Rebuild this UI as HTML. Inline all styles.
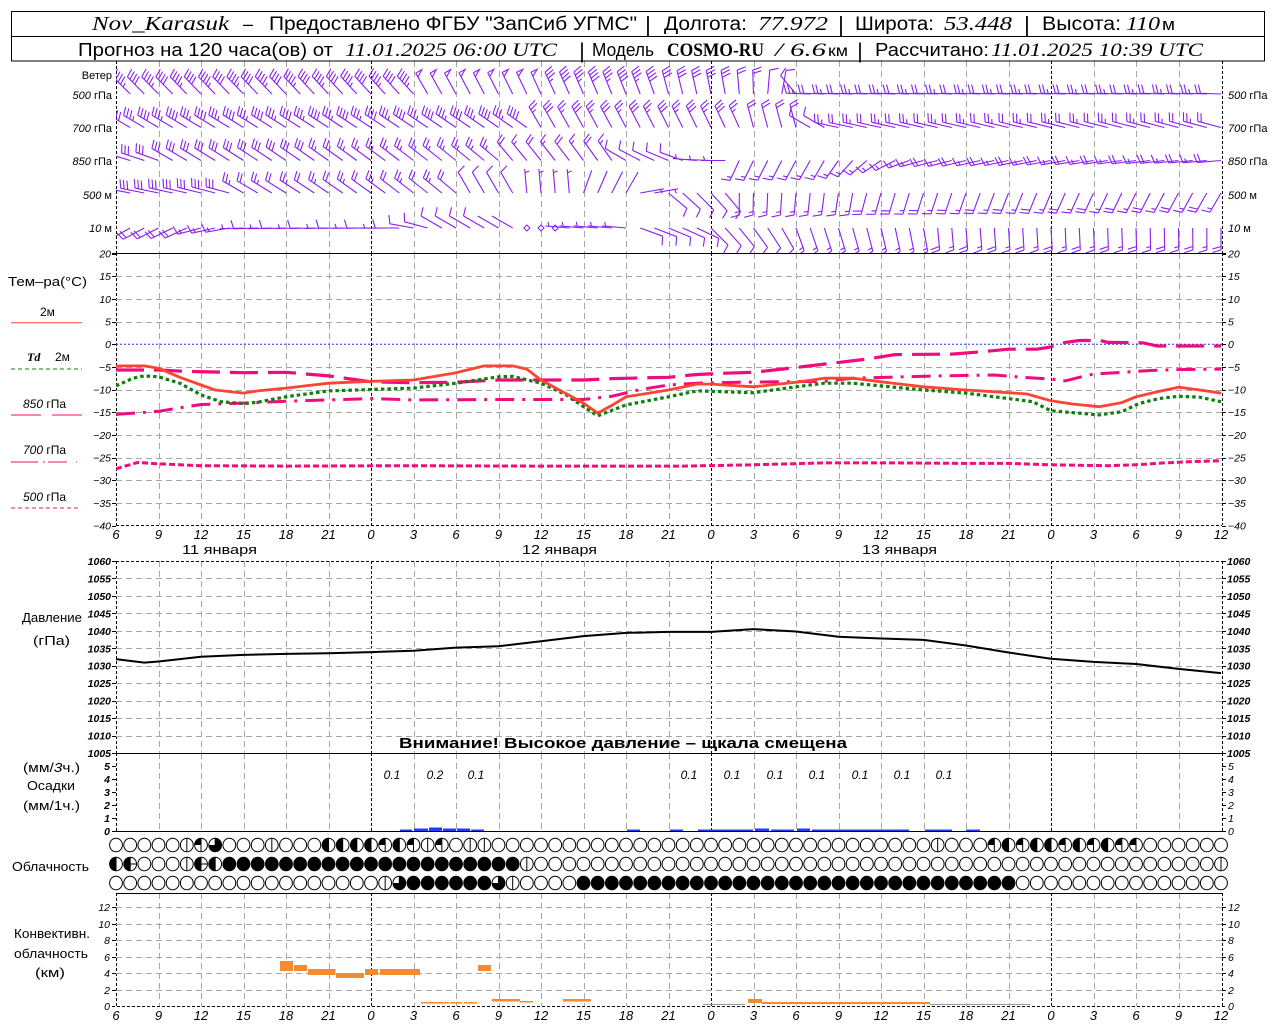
<!DOCTYPE html>
<html lang="ru"><head><meta charset="utf-8"><title>Nov_Karasuk meteogram</title>
<style>
html,body{margin:0;padding:0;background:#fff;width:1280px;height:1024px;overflow:hidden}
svg{display:block}
text{font-family:"Liberation Sans","DejaVu Sans",sans-serif;fill:#000}
.sr{font-family:"Liberation Serif","DejaVu Serif",serif}
.i{font-style:italic}
.tk{font-size:10.5px;font-style:italic}
.xl{font-size:13px;font-style:italic}
.lb{font-size:12.5px}
.wl{font-size:11px}
</style></head><body>
<svg id="c" xmlns="http://www.w3.org/2000/svg" width="1280" height="1024" viewBox="0 0 1280 1024">
<defs>
<clipPath id="wc"><rect x="116" y="61.5" width="1106" height="191.5"/></clipPath>
<clipPath id="tc"><rect x="116" y="253" width="1106" height="272"/></clipPath>
</defs>
<rect width="1280" height="1024" fill="#fff"/>
<g id="grid" shape-rendering="crispEdges"></g>
<g id="wind" clip-path="url(#wc)"></g>
<g id="temp" clip-path="url(#tc)"></g>
<g id="misc"></g>

<!-- HEADER -->
<rect x="11.5" y="11.5" width="1253" height="49.5" fill="none" stroke="#000" stroke-width="1"/>
<line x1="11" y1="36.5" x2="1265" y2="36.5" stroke="#000"/>
<text x="92" y="30" class="sr i" font-size="20" textLength="137" lengthAdjust="spacingAndGlyphs">Nov_Karasuk</text>
<text x="243" y="30" font-size="18" textLength="10" lengthAdjust="spacingAndGlyphs">–</text>
<text x="269" y="30" font-size="19" textLength="368" lengthAdjust="spacingAndGlyphs">Предоставлено ФГБУ "ЗапСиб УГМС"</text>
<text x="648" y="32" font-size="22" text-anchor="middle">|</text>
<text x="664" y="30" font-size="19" textLength="83" lengthAdjust="spacingAndGlyphs">Долгота:</text>
<text x="758" y="30" class="sr i" font-size="20" textLength="70" lengthAdjust="spacingAndGlyphs">77.972</text>
<text x="841" y="32" font-size="22" text-anchor="middle">|</text>
<text x="855" y="30" font-size="19" textLength="79" lengthAdjust="spacingAndGlyphs">Широта:</text>
<text x="944" y="30" class="sr i" font-size="20" textLength="68" lengthAdjust="spacingAndGlyphs">53.448</text>
<text x="1027" y="32" font-size="22" text-anchor="middle">|</text>
<text x="1042" y="30" font-size="19" textLength="79" lengthAdjust="spacingAndGlyphs">Высота:</text>
<text x="1126" y="30" class="sr i" font-size="20" textLength="34" lengthAdjust="spacingAndGlyphs">110</text>
<text x="1162" y="30" font-size="17" textLength="13" lengthAdjust="spacingAndGlyphs">м</text>

<text x="78" y="56" font-size="18" textLength="255" lengthAdjust="spacingAndGlyphs">Прогноз на 120 часа(ов) от</text>
<text x="345" y="56" class="sr i" font-size="19" textLength="212" lengthAdjust="spacingAndGlyphs">11.01.2025 06:00 UTC</text>
<text x="582" y="58" font-size="21" text-anchor="middle">|</text>
<text x="592" y="56" font-size="18" textLength="62" lengthAdjust="spacingAndGlyphs">Модель</text>
<text x="667" y="56" class="sr" font-weight="bold" font-size="19" textLength="97" lengthAdjust="spacingAndGlyphs">COSMO-RU</text>
<text x="775" y="56" class="sr i" font-size="19" textLength="51" lengthAdjust="spacingAndGlyphs">/ 6.6</text>
<text x="828" y="56" font-size="16" textLength="20" lengthAdjust="spacingAndGlyphs">км</text>
<text x="860" y="58" font-size="21" text-anchor="middle">|</text>
<text x="875" y="56" font-size="18" textLength="114" lengthAdjust="spacingAndGlyphs">Рассчитано:</text>
<text x="991" y="56" class="sr i" font-size="19" textLength="212" lengthAdjust="spacingAndGlyphs">11.01.2025 10:39 UTC</text>

<!-- WIND LABELS -->
<text x="112" y="79" class="wl" text-anchor="end">Ветер</text>
<text x="112" y="99" class="wl" text-anchor="end"><tspan class="i">500</tspan> гПа</text>
<text x="112" y="132" class="wl" text-anchor="end"><tspan class="i">700</tspan> гПа</text>
<text x="112" y="165" class="wl" text-anchor="end"><tspan class="i">850</tspan> гПа</text>
<text x="112" y="199" class="wl" text-anchor="end"><tspan class="i">500</tspan>  м</text>
<text x="112" y="232" class="wl" text-anchor="end"><tspan class="i">10</tspan>    м</text>
<text x="1228" y="99" class="wl"><tspan class="i">500</tspan> гПа</text>
<text x="1228" y="132" class="wl"><tspan class="i">700</tspan> гПа</text>
<text x="1228" y="165" class="wl"><tspan class="i">850</tspan> гПа</text>
<text x="1228" y="199" class="wl"><tspan class="i">500</tspan>  м</text>
<text x="1228" y="232" class="wl"><tspan class="i">10</tspan>    м</text>

<!-- TEMP LEGEND -->
<text x="8" y="286" font-size="13" textLength="79" lengthAdjust="spacingAndGlyphs">Тем–ра(°C)</text>
<text x="40" y="316" font-size="12">2м</text>
<text x="27" y="361" class="sr i" font-weight="bold" font-size="12">Td</text>
<text x="55" y="361" font-size="12">2м</text>
<text x="23" y="408" font-size="12"><tspan class="i">850</tspan> гПа</text>
<text x="23" y="454" font-size="12"><tspan class="i">700</tspan> гПа</text>
<text x="23" y="501" font-size="12"><tspan class="i">500</tspan> гПа</text>

<!-- TEMP TICKS -->
<g class="tk" text-anchor="end">
<text x="111" y="257.5">20</text><text x="111" y="280.2">15</text><text x="111" y="302.8">10</text><text x="111" y="325.5">5</text><text x="111" y="348.2">0</text><text x="111" y="370.8">−5</text><text x="111" y="393.5">−10</text><text x="111" y="416.2">−15</text><text x="111" y="438.8">−20</text><text x="111" y="461.5">−25</text><text x="111" y="484.2">−30</text><text x="111" y="506.8">−35</text><text x="111" y="529.5">−40</text>
</g>
<g class="tk">
<text x="1228" y="257.5">20</text><text x="1228" y="280.2">15</text><text x="1228" y="302.8">10</text><text x="1228" y="325.5">5</text><text x="1228" y="348.2">0</text><text x="1228" y="370.8">−5</text><text x="1228" y="393.5">−10</text><text x="1228" y="416.2">−15</text><text x="1228" y="438.8">−20</text><text x="1228" y="461.5">−25</text><text x="1228" y="484.2">−30</text><text x="1228" y="506.8">−35</text><text x="1228" y="529.5">−40</text>
</g>

<!-- TEMP X LABELS -->
<g class="xl" text-anchor="middle">
<text x="116" y="539">6</text><text x="158.5" y="539">9</text><text x="201" y="539">12</text><text x="243.5" y="539">15</text><text x="286" y="539">18</text><text x="328.5" y="539">21</text><text x="371" y="539">0</text><text x="413.5" y="539">3</text><text x="456" y="539">6</text><text x="498.5" y="539">9</text><text x="541" y="539">12</text><text x="583.5" y="539">15</text><text x="626" y="539">18</text><text x="668.5" y="539">21</text><text x="711" y="539">0</text><text x="753.5" y="539">3</text><text x="796" y="539">6</text><text x="838.5" y="539">9</text><text x="881" y="539">12</text><text x="923.5" y="539">15</text><text x="966" y="539">18</text><text x="1008.5" y="539">21</text><text x="1051" y="539">0</text><text x="1093.5" y="539">3</text><text x="1136" y="539">6</text><text x="1178.5" y="539">9</text><text x="1221" y="539">12</text>
</g>
<text x="182" y="554" font-size="13" textLength="75" lengthAdjust="spacingAndGlyphs">11 января</text>
<text x="522" y="554" font-size="13" textLength="75" lengthAdjust="spacingAndGlyphs">12 января</text>
<text x="862" y="554" font-size="13" textLength="75" lengthAdjust="spacingAndGlyphs">13 января</text>

<!-- PRESSURE -->
<text x="22" y="622" font-size="13" textLength="60" lengthAdjust="spacingAndGlyphs">Давление</text>
<text x="33" y="645" font-size="13" textLength="37" lengthAdjust="spacingAndGlyphs">(гПа)</text>
<g class="tk" font-size="10" font-weight="bold" text-anchor="end">
<text x="111" y="565">1060</text><text x="111" y="582.5">1055</text><text x="111" y="599.9">1050</text><text x="111" y="617.4">1045</text><text x="111" y="634.8">1040</text><text x="111" y="652.3">1035</text><text x="111" y="669.7">1030</text><text x="111" y="687.2">1025</text><text x="111" y="704.6">1020</text><text x="111" y="722.1">1015</text><text x="111" y="739.5">1010</text><text x="111" y="757">1005</text>
</g>
<g class="tk" font-size="10" font-weight="bold">
<text x="1227" y="565">1060</text><text x="1227" y="582.5">1055</text><text x="1227" y="599.9">1050</text><text x="1227" y="617.4">1045</text><text x="1227" y="634.8">1040</text><text x="1227" y="652.3">1035</text><text x="1227" y="669.7">1030</text><text x="1227" y="687.2">1025</text><text x="1227" y="704.6">1020</text><text x="1227" y="722.1">1015</text><text x="1227" y="739.5">1010</text><text x="1227" y="757">1005</text>
</g>
<text x="399" y="748" font-size="15" font-weight="bold" textLength="448" lengthAdjust="spacingAndGlyphs">Внимание! Высокое давление – щкала смещена</text>

<!-- PRECIP -->
<text x="23" y="772" font-size="13" textLength="57" lengthAdjust="spacingAndGlyphs">(мм/<tspan class="i">3</tspan>ч.)</text>
<text x="27" y="790" font-size="13" textLength="48" lengthAdjust="spacingAndGlyphs">Осадки</text>
<text x="23" y="810" font-size="13" textLength="57" lengthAdjust="spacingAndGlyphs">(мм/1ч.)</text>
<g class="tk" font-size="10" font-weight="bold" text-anchor="end">
<text x="110" y="770">5</text><text x="110" y="783">4</text><text x="110" y="796">3</text><text x="110" y="809">2</text><text x="110" y="822">1</text><text x="110" y="835">0</text>
</g>
<g class="tk" font-size="10">
<text x="1228" y="770">5</text><text x="1228" y="783">4</text><text x="1228" y="796">3</text><text x="1228" y="809">2</text><text x="1228" y="822">1</text><text x="1228" y="835">0</text>
</g>
<g class="i" font-size="12" text-anchor="middle">
<text x="392" y="779">0.1</text><text x="435" y="779">0.2</text><text x="476" y="779">0.1</text>
<text x="689" y="779">0.1</text><text x="732" y="779">0.1</text><text x="775" y="779">0.1</text><text x="817" y="779">0.1</text><text x="860" y="779">0.1</text><text x="902" y="779">0.1</text><text x="944" y="779">0.1</text>
</g>

<!-- CLOUDS -->
<text x="12" y="871" font-size="13" textLength="77" lengthAdjust="spacingAndGlyphs">Облачность</text>

<!-- CONVECTIVE -->
<text x="14" y="938" font-size="13" textLength="76" lengthAdjust="spacingAndGlyphs">Конвективн.</text>
<text x="14" y="958" font-size="13" textLength="74" lengthAdjust="spacingAndGlyphs">облачность</text>
<text x="35" y="977" font-size="13" textLength="30" lengthAdjust="spacingAndGlyphs">(км)</text>
<g class="tk" font-size="10" text-anchor="end">
<text x="110" y="911">12</text><text x="110" y="928">10</text><text x="110" y="944">8</text><text x="110" y="961">6</text><text x="110" y="977">4</text><text x="110" y="994">2</text><text x="110" y="1010">0</text>
</g>
<g class="tk" font-size="10">
<text x="1228" y="911">12</text><text x="1228" y="928">10</text><text x="1228" y="944">8</text><text x="1228" y="961">6</text><text x="1228" y="977">4</text><text x="1228" y="994">2</text><text x="1228" y="1010">0</text>
</g>
<g class="xl" text-anchor="middle">
<text x="116" y="1020">6</text><text x="158.5" y="1020">9</text><text x="201" y="1020">12</text><text x="243.5" y="1020">15</text><text x="286" y="1020">18</text><text x="328.5" y="1020">21</text><text x="371" y="1020">0</text><text x="413.5" y="1020">3</text><text x="456" y="1020">6</text><text x="498.5" y="1020">9</text><text x="541" y="1020">12</text><text x="583.5" y="1020">15</text><text x="626" y="1020">18</text><text x="668.5" y="1020">21</text><text x="711" y="1020">0</text><text x="753.5" y="1020">3</text><text x="796" y="1020">6</text><text x="838.5" y="1020">9</text><text x="881" y="1020">12</text><text x="923.5" y="1020">15</text><text x="966" y="1020">18</text><text x="1008.5" y="1020">21</text><text x="1051" y="1020">0</text><text x="1093.5" y="1020">3</text><text x="1136" y="1020">6</text><text x="1178.5" y="1020">9</text><text x="1221" y="1020">12</text>
</g>
</svg>
<script>
(function(){
var NS='http://www.w3.org/2000/svg';
function $(id){return document.getElementById(id);}
function mk(tag,a,p){var e=document.createElementNS(NS,tag);for(var k in a)e.setAttribute(k,a[k]);p.appendChild(e);return e;}
function X(h){return 116+h*1105/78;}
var grid=$('grid'),misc=$('misc'),wind=$('wind'),temp=$('temp');
var GR='#a6a6a6';
var panels=[[61,253],[253,525],[561,753],[753,831],[893,1006]];
for(var k=1;k<26;k++){
  var h=3*k,x=Math.round(X(h))+0.5,mid=((h+6)%24===0);
  panels.forEach(function(p){
    mk('line',{x1:x,y1:p[0],x2:x,y2:p[1],stroke:mid?'#000':GR,'stroke-dasharray':mid?'3,2':'6,4','stroke-width':1},grid);
  });
}
panels.forEach(function(p){
  mk('line',{x1:116.5,y1:p[0],x2:116.5,y2:p[1],stroke:'#000','stroke-dasharray':'3,2'},grid);
  mk('line',{x1:1222.5,y1:p[0],x2:1222.5,y2:p[1],stroke:'#000','stroke-dasharray':'3,2'},grid);
});
function hl(y,col,dash,x1,x2){var a={x1:x1||116,y1:y,x2:x2||1222,y2:y,stroke:col,'stroke-width':1};if(dash)a['stroke-dasharray']=dash;mk('line',a,grid);}
for(var k=1;k<12;k++){if(k===4)continue;hl(Math.round(253.5+k*22.667)+0.5,GR,'6,4');}
hl(253.5,'#000',null,112,1226);
hl(525.5,'#000','3,2');
for(var k=0;k<=12;k++){var y=Math.round(253.5+k*22.667)+0.5;hl(y,'#000',null,112,116);hl(y,'#000',null,1222,1226);}
hl(561.5,'#000','3,2');
for(var k=1;k<11;k++){hl(Math.round(561+k*17.4545)+0.5,GR,'6,4');}
hl(753.5,'#000',null,112,1226);
for(var k=0;k<=11;k++){var y=Math.round(561+k*17.4545)+0.5;hl(y,'#000',null,112,116);hl(y,'#000',null,1222,1226);}
hl(831.5,'#000',null,112,1226);
for(var k=0;k<=5;k++){var y=766.5+k*13;hl(y,'#000',null,112,116);hl(y,'#000',null,1222,1226);}
hl(893.5,'#000',null,116,1222);
for(var km=2;km<=12;km+=2){var y=Math.round(1006-km*8.22)+0.5;hl(y,GR,'6,4');hl(y,'#000',null,112,116);hl(y,'#000',null,1222,1226);}
hl(1006.5,'#000','3,2',112,1226);

mk('line',{x1:116,y1:344.2,x2:1222,y2:344.2,stroke:'#2233ff','stroke-width':1,'stroke-dasharray':'2,2'},temp);

var MG='#f00c7c';
mk('line',{x1:11,y1:322.7,x2:82,y2:322.7,stroke:'#ff4433','stroke-width':1},misc);
mk('line',{x1:11,y1:369,x2:82,y2:369,stroke:'#0f7f0f','stroke-width':1,'stroke-dasharray':'4,3'},misc);
mk('line',{x1:11,y1:415,x2:41,y2:415,stroke:MG,'stroke-width':1},misc);
mk('line',{x1:52,y1:415,x2:82,y2:415,stroke:MG,'stroke-width':1},misc);
mk('path',{d:'M11,462H38M43,462H45M48,462H67M76,462H77',stroke:MG,'stroke-width':1,fill:'none'},misc);
mk('line',{x1:11,y1:508,x2:78,y2:508,stroke:MG,'stroke-width':1,'stroke-dasharray':'4,3'},misc);

function Ty(t){return 344.17-t*4.5333;}
function path(pts,fy){return pts.map(function(q,i){return (i?'L':'M')+X(q[0]).toFixed(1)+','+fy(q[1]).toFixed(1);}).join('');}
var T500=[[0,-27.5],[1.5,-26.1],[3,-26.4],[6,-26.8],[12,-26.9],[20,-26.8],[30,-26.9],[40,-26.9],[45,-26.6],[50,-26.2],[55,-26.2],[60,-26.3],[63,-26.3],[66,-26.6],[70,-26.8],[72,-26.6],[74,-26.2],[76,-25.9],[78,-25.7]];
var T700=[[0,-15.5],[3,-14.8],[6,-13.3],[9,-13.0],[12,-12.6],[15,-12.3],[18,-12.0],[21,-12.3],[27,-12.2],[33,-12.2],[35,-11.5],[37,-10],[39,-9],[41,-8.6],[44,-8.4],[50,-8.2],[52,-7.5],[58,-7.0],[62,-6.8],[64,-7.3],[66,-7.7],[67,-8.1],[68,-7.3],[69,-6.6],[71,-6.2],[73,-5.8],[75,-5.6],[78,-5.5]];
var T850=[[0,-5.7],[3,-5.7],[5,-6.0],[9,-6.3],[12,-6.2],[15,-7.0],[18,-8.3],[21,-8.5],[24,-8.4],[27,-7.9],[33,-7.9],[35,-7.6],[39,-7.3],[41,-6.7],[43,-6.4],[45,-6.2],[47,-5.5],[50,-4.4],[53,-3.3],[55,-2.3],[59,-2.2],[61,-1.7],[63,-1.1],[65,-1.1],[66,-0.6],[67,0.4],[68,0.8],[69.5,0.8],[70,0.4],[72.5,0.3],[73.5,-0.4],[78,-0.4]];
var TD=[[0,-9.2],[1.2,-7.5],[2,-7.0],[3,-7.2],[4.5,-8.6],[6,-11.2],[7.4,-12.7],[9,-13.1],[10,-12.8],[12,-11.6],[15,-10.3],[18,-10.0],[21,-9.7],[24,-8.6],[27,-7.2],[28,-7.1],[30,-8.6],[31.8,-11.2],[33,-13.8],[34,-15.8],[36,-13.4],[39,-11.6],[41,-10.3],[45,-10.7],[48,-9.4],[50,-8.6],[52,-8.6],[54,-9.2],[57,-10.1],[60,-10.8],[63,-12.0],[64.7,-12.7],[66,-14.7],[67.5,-15.1],[69.4,-15.6],[71,-14.9],[72.2,-13.1],[73.6,-12.0],[75,-11.5],[76.5,-11.7],[78,-12.7]];
var T2=[[0,-4.8],[2,-4.8],[3,-5.3],[4.5,-7.3],[6,-9.0],[7,-10.1],[9,-10.8],[10,-10.3],[12,-9.7],[15,-8.6],[18,-8.2],[21,-7.9],[24,-6.3],[26,-4.8],[28,-4.8],[29,-5.5],[30,-7.9],[33,-13.0],[34,-15.2],[35,-13.5],[36,-11.6],[39,-10.1],[41,-8.8],[42,-8.8],[45,-9.4],[48,-8.4],[50,-7.5],[52,-7.5],[54,-8.3],[57,-9.4],[60,-10.1],[63,-10.7],[64.3,-11.0],[66,-12.5],[67.5,-13.2],[69.4,-13.8],[71,-12.9],[72,-11.6],[73.5,-10.5],[75,-9.5],[76.5,-10.1],[78,-10.8]];
mk('path',{d:path(T500,Ty),stroke:MG,'stroke-width':3,fill:'none','stroke-dasharray':'6,3'},temp);
mk('path',{d:path(T700,Ty),stroke:MG,'stroke-width':3,fill:'none','stroke-dasharray':'19,8,3,8'},temp);
mk('path',{d:path(T850,Ty),stroke:MG,'stroke-width':3.2,fill:'none','stroke-dasharray':'28,10'},temp);
mk('path',{d:path(TD,Ty),stroke:'#0f7f0f','stroke-width':3.2,fill:'none','stroke-dasharray':'3.5,3'},temp);
mk('path',{d:path(T2,Ty),stroke:'#ff4433','stroke-width':2.8,fill:'none','stroke-linejoin':'round'},temp);

function Py(p){return 561+(1060-p)*3.4909;}
var PR=[[0,1031.9],[2,1030.9],[3,1031.2],[6,1032.6],[9,1033.1],[12,1033.4],[15,1033.6],[18,1033.9],[21,1034.3],[24,1035.2],[27,1035.6],[30,1037.0],[33,1038.5],[36,1039.4],[39,1039.7],[42,1039.7],[45,1040.5],[48,1039.8],[51,1038.3],[54,1037.8],[57,1037.4],[60,1035.8],[63,1033.8],[66,1032.0],[69,1031.1],[72,1030.5],[75,1029.1],[78,1027.9]];
mk('path',{d:path(PR,Py),stroke:'#000','stroke-width':2,fill:'none'},misc);

var PB=[[400,412,1.5],[414,428,2.5],[429,442,3.5],[443,456,2.5],[457,470,2.5],[471,484,1.5],[627,640,1.5],[670,683,1.5],[698,753,1.5],[755,769,2.5],[771,794,1.5],[797,810,2.5],[812,909,1.5],[925,952,1.5],[966,980,1.5]];
PB.forEach(function(b){mk('rect',{x:b[0],y:831-b[2],width:b[1]-b[0],height:b[2],fill:'#1e3cff'},misc);});

var OR='#f58a2e';
var CB=[[280,293,961,971],[294,307,965,971],[308,335.5,969,975],[336,364,973,978],[365,378,969,975],[380,420,969,975],[421,449,1002,1003.5],[450,462,1002,1003.5],[464,477,1002,1003.5],[478,491,965,971],[492,520,999,1001.5],[520,533,1001,1002.5],[563,591,999,1001.5],[748,762,999,1003],[762,930,1002,1004]];
CB.forEach(function(b){mk('rect',{x:b[0],y:b[2],width:b[1]-b[0],height:b[3]-b[2],fill:OR},misc);});
mk('rect',{x:703,y:1004,width:42,height:1,fill:'#999'},misc);
mk('rect',{x:930,y:1004,width:100,height:1,fill:'#999'},misc);

function rle(a){var o=[];a.forEach(function(p){for(var i=0;i<p[1];i++)o.push(p[0]);});return o;}
var R1=rle([[0,5],[1,1],[2,1],[6,1],[0,3],[1,1],[0,3],[4,4],[2,1],[4,1],[2,1],[1,1],[2,1],[0,1],[1,2],[0,31],[1,1],[0,3],[2,1],[4,1],[2,1],[4,2],[2,1],[4,1],[2,1],[4,1],[2,2],[0,6]]);
var R2=rle([[4,1],[5,1],[0,3],[1,1],[5,1],[4,1],[8,21],[1,1],[0,48],[1,1]]);
var R3=rle([[0,19],[1,1],[6,1],[8,6],[6,1],[1,1],[0,4],[8,31],[0,15]]);
var rows=[[R1,845],[R2,864],[R3,883]];
var rx=6.4,ry=6.8;
rows.forEach(function(r){
  for(var i=0;i<79;i++){
    var cx=+X(i).toFixed(2),cy=r[1],s=r[0][i]||0;
    if(s===8){mk('ellipse',{cx:cx,cy:cy,rx:rx,ry:ry,fill:'#000',stroke:'#000'},misc);continue;}
    mk('ellipse',{cx:cx,cy:cy,rx:rx,ry:ry,fill:'#fff',stroke:'#000','stroke-width':1},misc);
    var d='';
    if(s===2){d='M'+cx+','+cy+'L'+cx+','+(cy-ry)+'A'+rx+' '+ry+' 0 0 0 '+(cx-rx)+','+cy+'Z';}
    else if(s===4||s===5){d='M'+cx+','+(cy-ry)+'A'+rx+' '+ry+' 0 0 0 '+cx+','+(cy+ry)+'Z';}
    else if(s===6){d='M'+cx+','+cy+'L'+cx+','+(cy-ry)+'A'+rx+' '+ry+' 0 1 1 '+(cx-rx)+','+cy+'Z';}
    if(d)mk('path',{d:d,fill:'#000'},misc);
    var ln='';
    if(s===1||s===2||s===4||s===5||s===6)ln+='M'+cx+','+(cy-ry)+'L'+cx+','+(cy+ry);
    if(s===5)ln+='M'+(cx-rx)+','+cy+'L'+(cx+rx)+','+cy;
    if(ln)mk('path',{d:ln,stroke:'#000','stroke-width':1,fill:'none'},misc);
  }
});

// wind barbs
var WC='#8a1ef0';
function barb(x,y,dir,spd,L){
  L=L||24;
  if(spd<0){mk('path',{d:'M'+(x-3)+','+y+'L'+x+','+(y-3)+'L'+(x+3)+','+y+'L'+x+','+(y+3)+'Z',fill:'none',stroke:WC,'stroke-width':1},wind);return;}
  var r=dir*Math.PI/180,sx=Math.sin(r),sy=-Math.cos(r);
  var cwx=-sy,cwy=sx;
  var px=0.96*cwx+0.28*sx,py=0.96*cwy+0.28*sy;
  function P(t){return [x+sx*t,y+sy*t];}
  var e=P(L);
  var d='M'+x.toFixed(1)+','+y.toFixed(1)+'L'+e[0].toFixed(1)+','+e[1].toFixed(1);
  var F=9,S=3.5,pos=L,s=Math.round(spd/5)*5;
  var n50=Math.floor(s/50);s-=n50*50;var n10=Math.floor(s/10);s-=n10*10;var n5=s>=5?1:0;
  var tri='';
  for(var i=0;i<n50;i++){var a=P(pos),b=P(pos-4.5);tri+='M'+a[0].toFixed(1)+','+a[1].toFixed(1)+'L'+(a[0]+cwx*7).toFixed(1)+','+(a[1]+cwy*7).toFixed(1)+'L'+b[0].toFixed(1)+','+b[1].toFixed(1);pos-=6;}
  for(var i=0;i<n10;i++){var a=P(pos);d+='M'+a[0].toFixed(1)+','+a[1].toFixed(1)+'l'+(px*F).toFixed(1)+','+(py*F).toFixed(1);pos-=S;}
  if(n5){if(n50+n10===0)pos-=S;var a=P(pos);d+='M'+a[0].toFixed(1)+','+a[1].toFixed(1)+'l'+(px*F/2).toFixed(1)+','+(py*F/2).toFixed(1);}
  if(tri)d+=tri;
  mk('path',{d:d,stroke:WC,'stroke-width':1.1,fill:'none'},wind);
}
function row(y,segs){
  for(var h=0;h<=78;h++){
    for(var j=0;j<segs.length;j++){
      var g=segs[j];
      if(h>=g[0]&&h<=g[1]){
        var f=(g[1]>g[0])?(h-g[0])/(g[1]-g[0]):0;
        var d1=g[2],d2=g[3];if(d2-d1>180)d2-=360;if(d1-d2>180)d2+=360;
        var dir=d1+(d2-d1)*f;
        var sp=g[4];
        if(g.length>5&&g[5]!=null&&h%2===1)sp=g[5];
        barb(X(h),y,dir,sp,g[6]||24);
        break;
      }
    }
  }
}
row(94,[[0,21,315,318,40,45],[22,30,330,335,50],[31,38,335,340,40,35],[39,43,345,350,30],[44,45,355,358,20],[46,47,5,10,10],[48,48,320,320,10],[49,78,272,272,20,25]]);
row(127.5,[[0,29,300,305,35,40],[30,44,330,335,25,30],[45,48,345,345,20],[49,50,300,300,10],[51,78,282,285,20,25]]);
row(160.5,[[0,3,285,290,30],[4,14,300,305,30],[15,27,305,310,25],[28,35,320,325,20,15],[36,40,300,290,10],[41,43,275,270,5],[44,50,205,210,15,null,22],[51,56,215,250,15,null,22],[57,78,255,265,20,15,24]]);
row(193,[[0,8,280,285,30],[9,24,300,310,20,25],[25,28,330,330,10],[29,32,355,355,5],[33,36,20,30,0],[37,38,80,80,5],[39,43,130,140,10],[44,52,180,190,15,null,22],[53,78,195,210,15,20,22]]);
row(228,[[0,5,240,245,20],[6,8,255,260,15],[9,20,268,270,10,5],[21,22,280,285,10],[23,26,300,300,10],[27,28,300,300,0],[29,31,0,0,-1],[32,36,275,275,5],[37,41,110,115,10],[42,47,135,150,10],[48,57,160,170,15],[58,78,175,180,20,15,22]]);
})();
</script>
</body></html>
